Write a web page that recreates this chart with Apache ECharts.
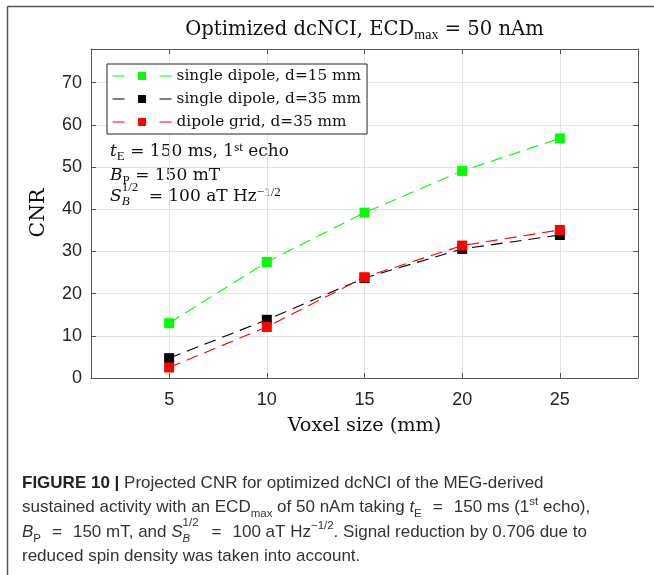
<!DOCTYPE html>
<html>
<head>
<meta charset="utf-8">
<script src="https://cdn.jsdelivr.net/npm/echarts@6/dist/echarts.min.js"></script>
<style>
html,body{margin:0;padding:0;background:#fff;}
#chart{width:654px;height:575px;}
</style>
</head>
<body>
<div id="chart"></div>
<script>
// ---- data ----
const voxelSizes = [5, 10, 15, 20, 25];
const seriesNames = ['single dipole, d=15 mm', 'single dipole, d=35 mm', 'dipole grid, d=35 mm'];
const cnrSingle15 = [13.0, 27.5, 39.2, 49.1, 56.8];
const cnrSingle35 = [4.7, 13.8, 23.7, 30.6, 33.9];
const cnrGrid35 = [2.5, 12.1, 23.9, 31.4, 35.1];
const xTickValues = [5, 10, 15, 20, 25];
const yTickValues = [0, 10, 20, 30, 40, 50, 60, 70];
const seriesColors = ['#00ff00', '#000000', '#ff0000'];

const serif = '"DejaVu Serif", "Liberation Serif", serif';
const script = '"Liberation Serif", serif';
const sans = '"Liberation Sans", Arial, sans-serif';
const ink = '#111';
const capInk = '#333';

function pairs(vals) { return voxelSizes.map((x, i) => [x, vals[i]]); }

const chart = echarts.init(document.getElementById('chart'), null, {renderer: 'canvas'});

const axisGray = '#555555';
const gridGray = '#e3e3e3';

function mkSeries(name, vals, color) {
  return {
    name: name, type: 'line', data: pairs(vals),
    xAxisIndex: 0, yAxisIndex: 0,
    symbol: 'rect', symbolSize: 10,
    itemStyle: {color: color},
    lineStyle: {color: color, width: 1.1, type: [12, 7]},
    emphasis: {disabled: true},
    animation: false, z: 3
  };
}

function R(fam, size, lh, extra) { return Object.assign({fontFamily: fam, fontSize: size, lineHeight: lh, fill: ink}, extra || {}); }

// annotation rich styles
const annRich = {
  m: R(serif, 17, 22),
  i: R(serif, 17, 22, {fontStyle: 'italic'}),
  s: R(script, 13, 12, {verticalAlign: 'bottom'}),
  si: R(script, 13, 12, {verticalAlign: 'bottom', fontStyle: 'italic'}),
  siw: R(script, 13, 12, {verticalAlign: 'bottom', fontStyle: 'italic', width: 27}),
  p: R(script, 13, 12, {verticalAlign: 'top'}),
  hi: R(serif, 17, 22, {fontStyle: 'italic', fill: 'transparent'})
};

// caption rich styles
const CF = 17, CL = 24.5;
const capRich = {
  b: {fontFamily: sans, fontWeight: 'bold', fontSize: CF, lineHeight: CL, fill: '#222'},
  n: {fontFamily: sans, fontSize: CF, lineHeight: CL, fill: capInk},
  i: {fontFamily: sans, fontStyle: 'italic', fontSize: CF, lineHeight: CL, fill: capInk},
  g: {fontFamily: sans, fontSize: CF, lineHeight: CL, fill: capInk, width: 11},
  sb: {fontFamily: sans, fontSize: 11.5, lineHeight: 16, verticalAlign: 'bottom', fill: capInk},
  sbi: {fontFamily: sans, fontStyle: 'italic', fontSize: 11.5, lineHeight: 16, verticalAlign: 'bottom', fill: capInk},
  sbw: {fontFamily: sans, fontStyle: 'italic', fontSize: 11.5, lineHeight: 16, verticalAlign: 'bottom', fill: capInk, width: 18},
  sp: {fontFamily: sans, fontSize: 11.5, lineHeight: 14, verticalAlign: 'top', fill: capInk},
  hn: {fontFamily: sans, fontSize: CF, lineHeight: CL, fill: 'transparent'},
  hg: {fontFamily: sans, fontSize: CF, lineHeight: CL, fill: 'transparent', width: 11},
  hi: {fontFamily: sans, fontStyle: 'italic', fontSize: CF, lineHeight: CL, fill: 'transparent'},
  hsb: {fontFamily: sans, fontSize: 11.5, lineHeight: 16, verticalAlign: 'bottom', fill: 'transparent'}
};

function capLine(y, text) {
  return {type: 'text', x: 22, y: y, silent: true, style: {text: text, rich: capRich}};
}

const option = {
  animation: false,
  backgroundColor: '#ffffff',
  grid: {left: 91, top: 49, width: 547, height: 329, containLabel: false},
  xAxis: [{
    type: 'value', min: 1, max: 29, position: 'bottom',
    axisLine: {show: true, onZero: false, lineStyle: {color: axisGray, width: 1}},
    axisTick: {show: true, inside: true, length: 5, customValues: xTickValues, lineStyle: {color: axisGray}},
    axisLabel: {customValues: xTickValues, margin: 13, color: '#262626', fontFamily: sans, fontSize: 18},
    splitLine: {show: true, lineStyle: {color: gridGray, width: 1}}
  }, {
    type: 'value', min: 1, max: 29, position: 'top',
    axisLine: {show: true, onZero: false, lineStyle: {color: axisGray, width: 1}},
    axisTick: {show: true, inside: true, length: 5, customValues: xTickValues, lineStyle: {color: axisGray}},
    axisLabel: {show: false},
    splitLine: {show: false}
  }],
  yAxis: [{
    type: 'value', min: 0, max: 78, position: 'left',
    axisLine: {show: true, onZero: false, lineStyle: {color: axisGray, width: 1}},
    axisTick: {show: true, inside: true, length: 5, customValues: yTickValues, lineStyle: {color: axisGray}},
    axisLabel: {customValues: yTickValues, margin: 9, color: '#262626', fontFamily: sans, fontSize: 18},
    splitLine: {show: true, lineStyle: {color: gridGray, width: 1}}
  }, {
    type: 'value', min: 0, max: 78, position: 'right',
    axisLine: {show: true, onZero: false, lineStyle: {color: axisGray, width: 1}},
    axisTick: {show: true, inside: true, length: 5, customValues: yTickValues, lineStyle: {color: axisGray}},
    axisLabel: {show: false},
    splitLine: {show: false}
  }],
  legend: {
    show: true, orient: 'vertical', left: 107, top: 64,
    data: seriesNames,
    itemWidth: 59, itemHeight: 10, itemGap: 5,
    padding: [3, 6, 3, 5],
    backgroundColor: '#ffffff', borderColor: '#262626', borderWidth: 1,
    borderRadius: 0,
    lineStyle: {type: [12, 35], width: 1.1},
    textStyle: {fontFamily: serif, fontSize: 15.3, color: ink, lineHeight: 18},
    selectedMode: false,
    z: 10
  },
  series: [
    mkSeries(seriesNames[0], cnrSingle15, seriesColors[0]),
    mkSeries(seriesNames[1], cnrSingle35, seriesColors[1]),
    mkSeries(seriesNames[2], cnrGrid35, seriesColors[2])
  ],
  graphic: [
    // outer figure frame (top & left)
    {type: 'line', shape: {x1: 7.5, y1: 6.5, x2: 654, y2: 6.5}, style: {stroke: '#555', lineWidth: 1.5}, silent: true},
    {type: 'line', shape: {x1: 7.5, y1: 6.5, x2: 7.5, y2: 575}, style: {stroke: '#555', lineWidth: 1.5}, silent: true},
    // title
    {
      type: 'text', x: 364.5, y: 18, silent: true,
      style: {
        text: '{m|Optimized dcNCI, ECD}{s|max}{m| = 50 nAm}',
        align: 'center',
        rich: {
          m: R(serif, 19.6, 24),
          s: R(script, 14, 13, {verticalAlign: 'bottom'})
        }
      }
    },
    // y-axis name
    {
      type: 'text', x: 39, y: 213, rotation: Math.PI / 2, silent: true,
      style: {text: 'CNR', fontFamily: serif, fontSize: 20.5, fill: ink, align: 'center', verticalAlign: 'middle'}
    },
    // x-axis name
    {
      type: 'text', x: 364.5, y: 426, silent: true,
      style: {text: 'Voxel size (mm)', fontFamily: serif, fontSize: 19.3, fill: ink, align: 'center', verticalAlign: 'middle'}
    },
    // annotation lines
    {type: 'text', x: 110, y: 141, silent: true,
      style: {text: '{i|t}{s|E}{m| = 150 ms, 1}{p|st}{m| echo}', rich: annRich}},
    {type: 'text', x: 110, y: 165, silent: true,
      style: {text: '{i|B}{s|P}{m| = 150 mT}', rich: annRich}},
    {type: 'text', x: 110, y: 186, silent: true,
      style: {text: '{i|S}{siw|B}{m|= 100 aT Hz}{p|−1/2}', rich: annRich}},
    {type: 'text', x: 110, y: 181, silent: true,
      style: {text: '{hi|S}{p|1/2}', rich: annRich}},
    // caption
    capLine(471, '{b|FIGURE 10 |}{n| Projected CNR for optimized dcNCI of the MEG-derived}'),
    capLine(495.5, '{n|sustained activity with an ECD}{sb|max}{n| of 50 nAm taking }{i|t}{sb|E}{g| }{n|=}{g| }{n|150 ms (1}{sp|st}{n| echo),}'),
    capLine(520, '{i|B}{sb|P}{g| }{n|=}{g| }{n|150 mT, and }{i|S}{sbw|B}{g| }{n|=}{g| }{n|100 aT Hz}{sp|−1/2}{n|. Signal reduction by 0.706 due to}'),
    capLine(517, '{hi|B}{hsb|P}{hg| }{hn|=}{hg| }{hn|150 mT, and }{hi|S}{sp|1/2}'),
    capLine(544.5, '{n|reduced spin density was taken into account.}')
  ]
};

chart.setOption(option);
</script>
</body>
</html>
